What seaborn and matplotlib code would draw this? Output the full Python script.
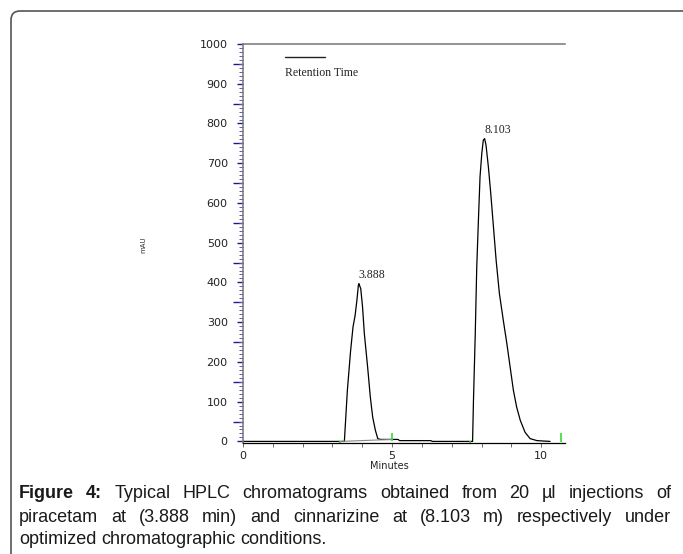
import matplotlib
matplotlib.use('Agg')
import matplotlib.pyplot as plt
import matplotlib.transforms as mtrans
from matplotlib.patches import FancyBboxPatch
import numpy as np
import pandas as pd
import seaborn as sns

# chromatogram trace (minutes, mAU)
time_min = [0.0, 3.40, 3.50, 3.61, 3.69, 3.76, 3.82, 3.87, 3.888, 3.95, 4.01,
            4.07, 4.18, 4.27, 4.35, 4.44, 4.52, 4.61, 5.00, 5.20, 5.25, 6.30,
            6.35, 7.70, 7.73, 7.79, 7.84, 7.90, 7.95, 8.01, 8.06, 8.103, 8.15,
            8.23, 8.31, 8.40, 8.49, 8.60, 8.73, 8.85, 8.96, 9.07, 9.18, 9.30,
            9.46, 9.63, 9.86, 10.30]
signal_mau = [0, 0, 128, 229, 288, 317, 355, 393, 397, 384, 338,
              271, 187, 112, 61, 28, 7, 5, 5, 5, 2, 2,
              0, 0, 103, 271, 439, 565, 666, 725, 758, 762, 746,
              691, 624, 540, 456, 372, 305, 246, 187, 128, 86, 53,
              23, 7, 2, 0]

# integration baseline and peak start/end marks
base1_t = [3.27, 5.01]
base1_v = [0, 5]
marks_t = [3.27, 5.01, 7.63, 10.65]
marks_lo = [-4, 0, -4, -2]
marks_hi = [0, 22, 0, 20]

peak_times = [3.888, 8.103]
peak_heights = [397, 762]
peak_labels = ['3.888', '8.103']

caption_lines = [
    "Figure 4: Typical HPLC chromatograms obtained from 20 \u00b5l injections of",
    "piracetam at (3.888 min) and cinnarizine at (8.103 m) respectively under",
    "optimized chromatographic conditions.",
]

sns.set_style('white')
plt.rcParams['font.family'] = ['DejaVu Sans']

W, H = 683, 554
fig = plt.figure(figsize=(W / 100, H / 100), dpi=100)
ax = fig.add_axes([243 / W, 1 - 443 / H, 322 / W, 399 / H])

df = pd.DataFrame({'t': time_min, 'v': signal_mau})
sns.lineplot(data=df, x='t', y='v', ax=ax, color='black', lw=0.9,
             sort=False, estimator=None)
ax.plot(base1_t, base1_v, color='#888888', lw=0.8)
ax.vlines(marks_t, marks_lo, marks_hi, color='#33dd33', lw=1.2)

for t, h, lab in zip(peak_times, peak_heights, peak_labels):
    ax.annotate(lab, (t, h), xytext=(0, 2), textcoords='offset points',
                ha='left', va='bottom', fontsize=8.5,
                family='Liberation Serif', color='#222222')

ax.set_xlim(0, 10.8)
ax.set_ylim(-4, 1000)

# spines
ax.spines['right'].set_visible(False)
ax.spines['top'].set_color('#777777')
ax.spines['top'].set_linewidth(1.1)
ax.spines['left'].set_color('#777777')
ax.spines['left'].set_linewidth(1.1)
ax.spines['bottom'].set_color('black')
ax.spines['bottom'].set_linewidth(0.9)

# ticks
ax.set_xticks([0, 5, 10])
ax.set_xticks(np.arange(0, 11, 1), minor=True)
ax.tick_params(axis='x', which='both', direction='out', length=3,
               width=0.6, color='#555555', labelsize=8, pad=3,
               bottom=True)
ax.set_yticks(np.arange(0, 1001, 100))
ax.set_yticks(np.arange(0, 1001, 10), minor=True)
ax.tick_params(axis='y', which='major', direction='out', length=4,
               width=1.0, color='#1c1c8c', labelsize=8, pad=7, left=True)
ax.tick_params(axis='y', which='minor', direction='out', length=3,
               width=0.7, color='#5a5ab4', left=True)
for lab in ax.get_xticklabels() + ax.get_yticklabels():
    lab.set_color('#222222')

sec = ax.secondary_yaxis('left')
sec.set_yticks(np.arange(50, 1000, 100))
sec.tick_params(length=7, width=1.0, color='#1c1c8c', labelleft=False)
sec.spines['left'].set_visible(False)

ax.set_xlabel('Minutes', fontsize=7, color='#222222')
ax.xaxis.set_label_coords((389 - 243) / 322, -0.045)
ax.set_ylabel('mAU', fontsize=5, color='#333333')
ax.yaxis.set_label_coords(-0.30, (443 - 245) / 399)

# legend key
ax.plot([0.13, 0.255], [0.968, 0.968], transform=ax.transAxes,
        color='#222222', lw=1.0)
ax.text(0.13, 0.927, 'Retention Time', transform=ax.transAxes,
        fontsize=8.5, family='Liberation Serif', color='#222222',
        ha='left', va='center')

# frame round the figure
frame = FancyBboxPatch((11, -30), 700, H - 11 + 30,
                       boxstyle='round,pad=0,rounding_size=9',
                       transform=mtrans.IdentityTransform(),
                       fc='none', ec='#555555', lw=1.2)
fig.patches.append(frame)


def justify_line(text, y_px, x0, x1, size, justify=True):
    renderer = fig.canvas.get_renderer()
    words = text.split(' ')
    arts = []
    for i, w in enumerate(words):
        bold = text.startswith('Figure') and i < 2
        a = fig.text(0, 1 - y_px / H, w, fontsize=size,
                     family='Liberation Sans',
                     weight='bold' if bold else 'normal',
                     va='center', ha='left', color='#1a1a1a')
        arts.append(a)
    widths = [a.get_window_extent(renderer).width for a in arts]
    space = fig.text(0, 0, ' ', fontsize=size, family='Liberation Sans')
    gap = space.get_window_extent(renderer).width
    space.remove()
    if justify and len(words) > 1:
        gap = (x1 - x0 - sum(widths)) / (len(words) - 1)
    x = x0
    for a, w in zip(arts, widths):
        a.set_x(x / W)
        x += w + gap


justify_line(caption_lines[0], 493, 19, 671, 13)
justify_line(caption_lines[1], 517, 19, 671, 13)
justify_line(caption_lines[2], 540, 19, 671, 13, justify=False)

fig.savefig('out.png', dpi=100)
